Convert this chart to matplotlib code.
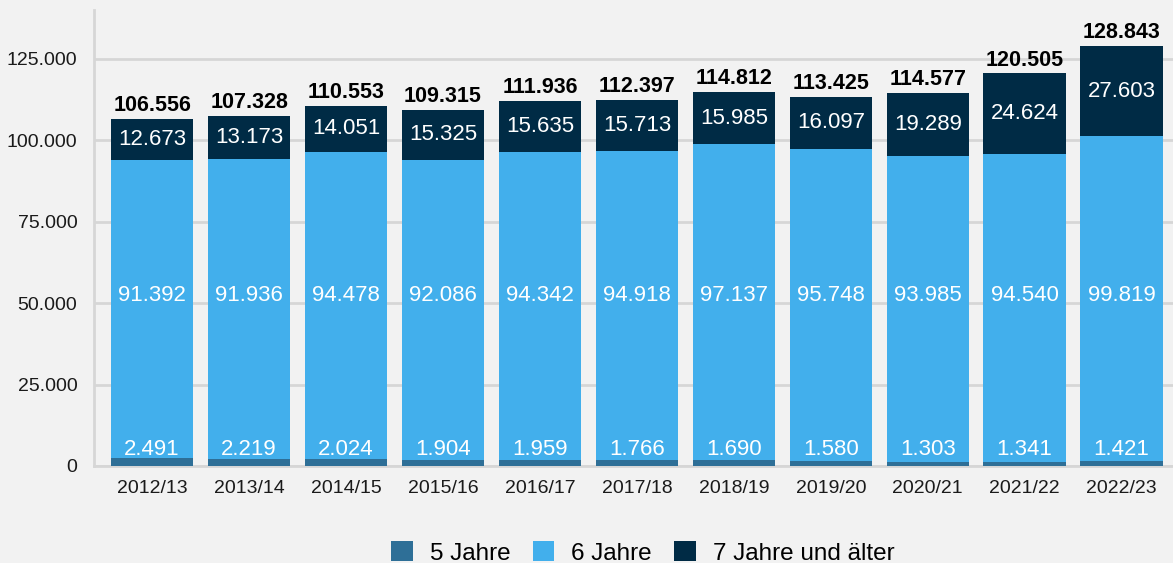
import numpy as np
import matplotlib.pyplot as plt
from matplotlib.ticker import FuncFormatter

jahre = ['2012/13', '2013/14', '2014/15', '2015/16', '2016/17', '2017/18',
         '2018/19', '2019/20', '2020/21', '2021/22', '2022/23']
fuenf = [2491, 2219, 2024, 1904, 1959, 1766, 1690, 1580, 1303, 1341, 1421]
sechs = [91392, 91936, 94478, 92086, 94342, 94918, 97137, 95748, 93985, 94540, 99819]
sieben = [12673, 13173, 14051, 15325, 15635, 15713, 15985, 16097, 19289, 24624, 27603]
gesamt = [106556, 107328, 110553, 109315, 111936, 112397, 114812, 113425, 114577, 120505, 128843]

farben = ['#2E6F97', '#42AFEC', '#002B45']
bg = '#F2F2F2'

plt.rcParams['font.family'] = ['Liberation Sans', 'DejaVu Sans']


def fmt(v):
    return f'{v:,.0f}'.replace(',', '.')


fig = plt.figure(figsize=(11.73, 5.63), dpi=100, facecolor=bg)
ax = fig.add_axes([94 / 1173, 97 / 563, 1 - 94 / 1173, (466 - 10) / 563])
ax.set_facecolor(bg)

x = np.arange(len(jahre))
w = 0.85
f = np.array(fuenf)
s = np.array(sechs)
t = np.array(sieben)

b1 = ax.bar(x, f, w, color=farben[0], label='5 Jahre', zorder=3)
b2 = ax.bar(x, s, w, bottom=f, color=farben[1], label='6 Jahre', zorder=3)
b3 = ax.bar(x, t, w, bottom=f + s, color=farben[2], label='7 Jahre und älter', zorder=3)

# Beschriftungen: 6-Jahre-Werte stehen im Original alle auf gleicher Höhe
for i in range(len(x)):
    ax.text(x[i], 5200, fmt(f[i]), ha='center', va='center',
            color='white', fontsize=16, zorder=4)
    ax.text(x[i], 52200, fmt(s[i]), ha='center', va='center',
            color='white', fontsize=16, zorder=4)
    ax.text(x[i], f[i] + s[i] + t[i] / 2, fmt(t[i]), ha='center', va='center',
            color='white', fontsize=16, zorder=4)
    ax.text(x[i], gesamt[i] + 900, fmt(gesamt[i]), ha='center', va='bottom',
            color='black', fontsize=15.5, fontweight='bold', zorder=4)

ax.set_ylim(0, 140000)
ax.set_xlim(-0.6, 10.53)
ax.set_yticks([0, 25000, 50000, 75000, 100000, 125000])
ax.yaxis.set_major_formatter(FuncFormatter(lambda v, p: fmt(v)))
ax.set_xticks(x)
ax.set_xticklabels(jahre)
ax.tick_params(axis='both', length=0, labelsize=14, colors='#1a1a1a')
ax.tick_params(axis='x', pad=10)
ax.tick_params(axis='y', pad=12)
ax.grid(axis='y', color='#D6D6D6', linewidth=2, zorder=0)

for side in ['top', 'right']:
    ax.spines[side].set_visible(False)
ax.spines['left'].set_color('#D6D6D6')
ax.spines['left'].set_linewidth(2)
ax.spines['bottom'].set_color('#D6D6D6')
ax.spines['bottom'].set_linewidth(2)

fig.legend(handles=[b1, b2, b3], loc='lower center', bbox_to_anchor=(0.548, -0.042),
           ncol=3, frameon=False, fontsize=17.5, handlelength=0.9, handleheight=0.9,
           handletextpad=0.7, columnspacing=0.9)

fig.savefig('out.png', dpi=100, facecolor=bg)
